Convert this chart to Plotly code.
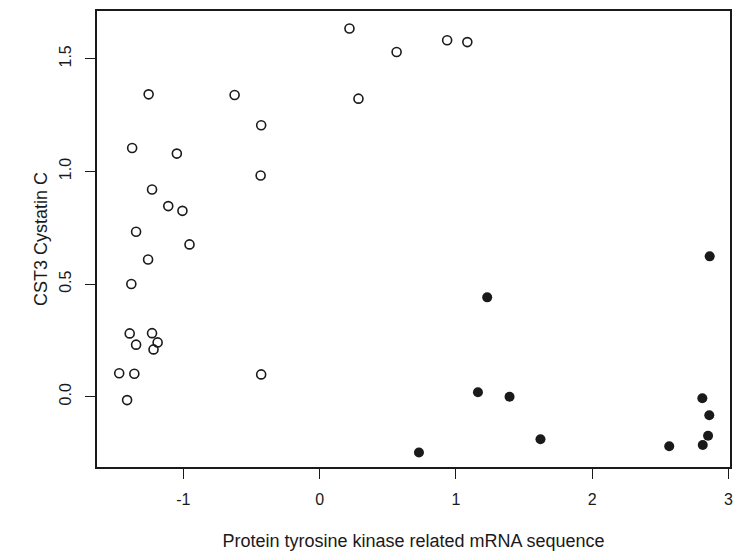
import plotly.graph_objects as go

# Open circles (group 1)
open_x = [0.219, 0.565, -1.255, -0.624, 0.285, -0.429, -1.376, -1.048, -0.433,
          -1.230, -1.111, -1.007, -1.347, -0.955, 0.936, 1.084, -1.259, -1.382,
          -1.394, -1.230, -1.347, -1.189, -1.219, -1.471, -1.360, -0.429, -1.413]
open_y = [1.634, 1.530, 1.342, 1.339, 1.323, 1.205, 1.104, 1.079, 0.982,
          0.920, 0.846, 0.825, 0.732, 0.676, 1.582, 1.574, 0.609, 0.500,
          0.281, 0.282, 0.231, 0.241, 0.210, 0.104, 0.102, 0.099, -0.015]

# Filled circles (group 2)
fill_x = [2.863, 1.230, 1.162, 1.394, 2.809, 2.860, 1.621, 2.851, 2.566, 2.812, 0.729]
fill_y = [0.623, 0.441, 0.020, 0.000, -0.007, -0.082, -0.189, -0.173, -0.220, -0.214, -0.248]

x_ticks = [-1, 0, 1, 2, 3]
y_ticks = [0.0, 0.5, 1.0, 1.5]
y_tick_labels = ["0.0", "0.5", "1.0", "1.5"]

ink = "#1a1a1a"
font_family = "Liberation Sans, Arial, sans-serif"

fig = go.Figure()
fig.add_trace(go.Scatter(
    x=open_x, y=open_y, mode="markers",
    marker=dict(symbol="circle-open", size=9, color=ink, line=dict(width=1.6, color=ink)),
    showlegend=False))
fig.add_trace(go.Scatter(
    x=fill_x, y=fill_y, mode="markers",
    marker=dict(symbol="circle", size=10, color=ink, line=dict(width=0)),
    showlegend=False))

fig.update_layout(
    width=736, height=556,
    margin=dict(l=97, r=3, t=11, b=89),
    paper_bgcolor="white", plot_bgcolor="white",
    font=dict(family=font_family, color=ink),
)
fig.update_xaxes(
    range=[-1.634, 3.012], tickvals=x_ticks, ticktext=[str(t) for t in x_ticks],
    showgrid=False, zeroline=False, showline=True, mirror=True,
    linecolor=ink, linewidth=1.5, ticks="outside", ticklen=10, tickwidth=1.3,
    tickcolor=ink, tickfont=dict(size=16, color=ink), ticklabelstandoff=7,
    title=dict(text="Protein tyrosine kinase related mRNA sequence",
               font=dict(size=18, color=ink), standoff=27),
)
fig.update_yaxes(
    range=[-0.312, 1.712], tickvals=y_ticks, ticktext=y_tick_labels,
    showgrid=False, zeroline=False, showline=True, mirror=True,
    linecolor=ink, linewidth=1.5, ticks="outside", ticklen=10, tickwidth=1.3,
    tickcolor=ink, tickfont=dict(size=16, color=ink), tickangle=-90,
    ticklabelstandoff=8,
    title=dict(text="CST3 Cystatin C", font=dict(size=18, color=ink), standoff=5),
)

fig.write_html("out.html")
